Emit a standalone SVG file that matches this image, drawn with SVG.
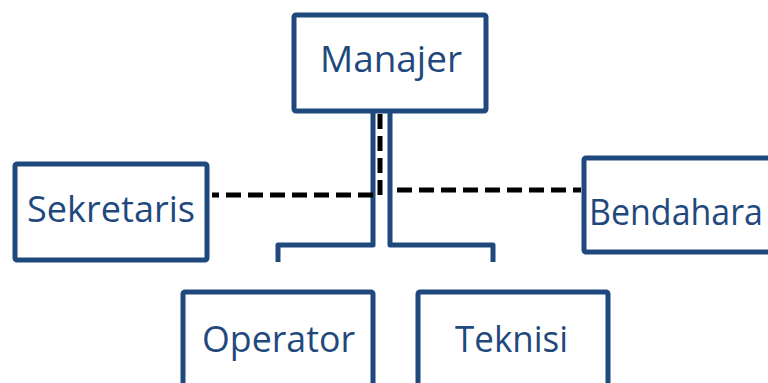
<svg xmlns="http://www.w3.org/2000/svg" width="768" height="383" viewBox="0 0 768 383">
<style>
.box{fill:#fff;stroke:#1f497d;stroke-width:5;stroke-linejoin:round}
.lbl{font-family:"Open Sans","Noto Sans",sans-serif;font-size:36px;fill:#1f497d}
.solid{fill:none;stroke:#1f497d;stroke-width:5;stroke-linejoin:round}
.dash{fill:none;stroke:#000;stroke-width:5;stroke-dasharray:15 7}
</style>
<rect width="768" height="383" fill="#fff"/>
<g id="connectors">
<path class="solid" d="M373 112 V245 H278 V262"/>
<path class="solid" d="M390 112 V245 H493 V262"/>
<path class="dash" d="M380 114 V195 H212"/>
<path class="dash" d="M397 190 H581"/>
</g>
<g id="manajer">
<rect class="box" x="294" y="15" width="192" height="96" rx="2"/>
<text class="lbl" x="391" y="72" text-anchor="middle" textLength="142" lengthAdjust="spacingAndGlyphs">Manajer</text>
</g>
<g id="sekretaris">
<rect class="box" x="15" y="164" width="192" height="96" rx="2"/>
<text class="lbl" x="111" y="222" text-anchor="middle" textLength="168" lengthAdjust="spacingAndGlyphs">Sekretaris</text>
</g>
<g id="bendahara">
<rect class="box" x="584" y="158" width="230" height="94" rx="2"/>
<text class="lbl" x="589" y="225" textLength="174" lengthAdjust="spacingAndGlyphs">Bendahara</text>
</g>
<g id="operator">
<rect class="box" x="183" y="292" width="190" height="120" rx="2"/>
<text class="lbl" x="278.5" y="352" text-anchor="middle" textLength="153" lengthAdjust="spacingAndGlyphs">Operator</text>
</g>
<g id="teknisi">
<rect class="box" x="418" y="292" width="190" height="120" rx="2"/>
<text class="lbl" x="511.5" y="352" text-anchor="middle" textLength="113" lengthAdjust="spacingAndGlyphs">Teknisi</text>
</g>
</svg>
